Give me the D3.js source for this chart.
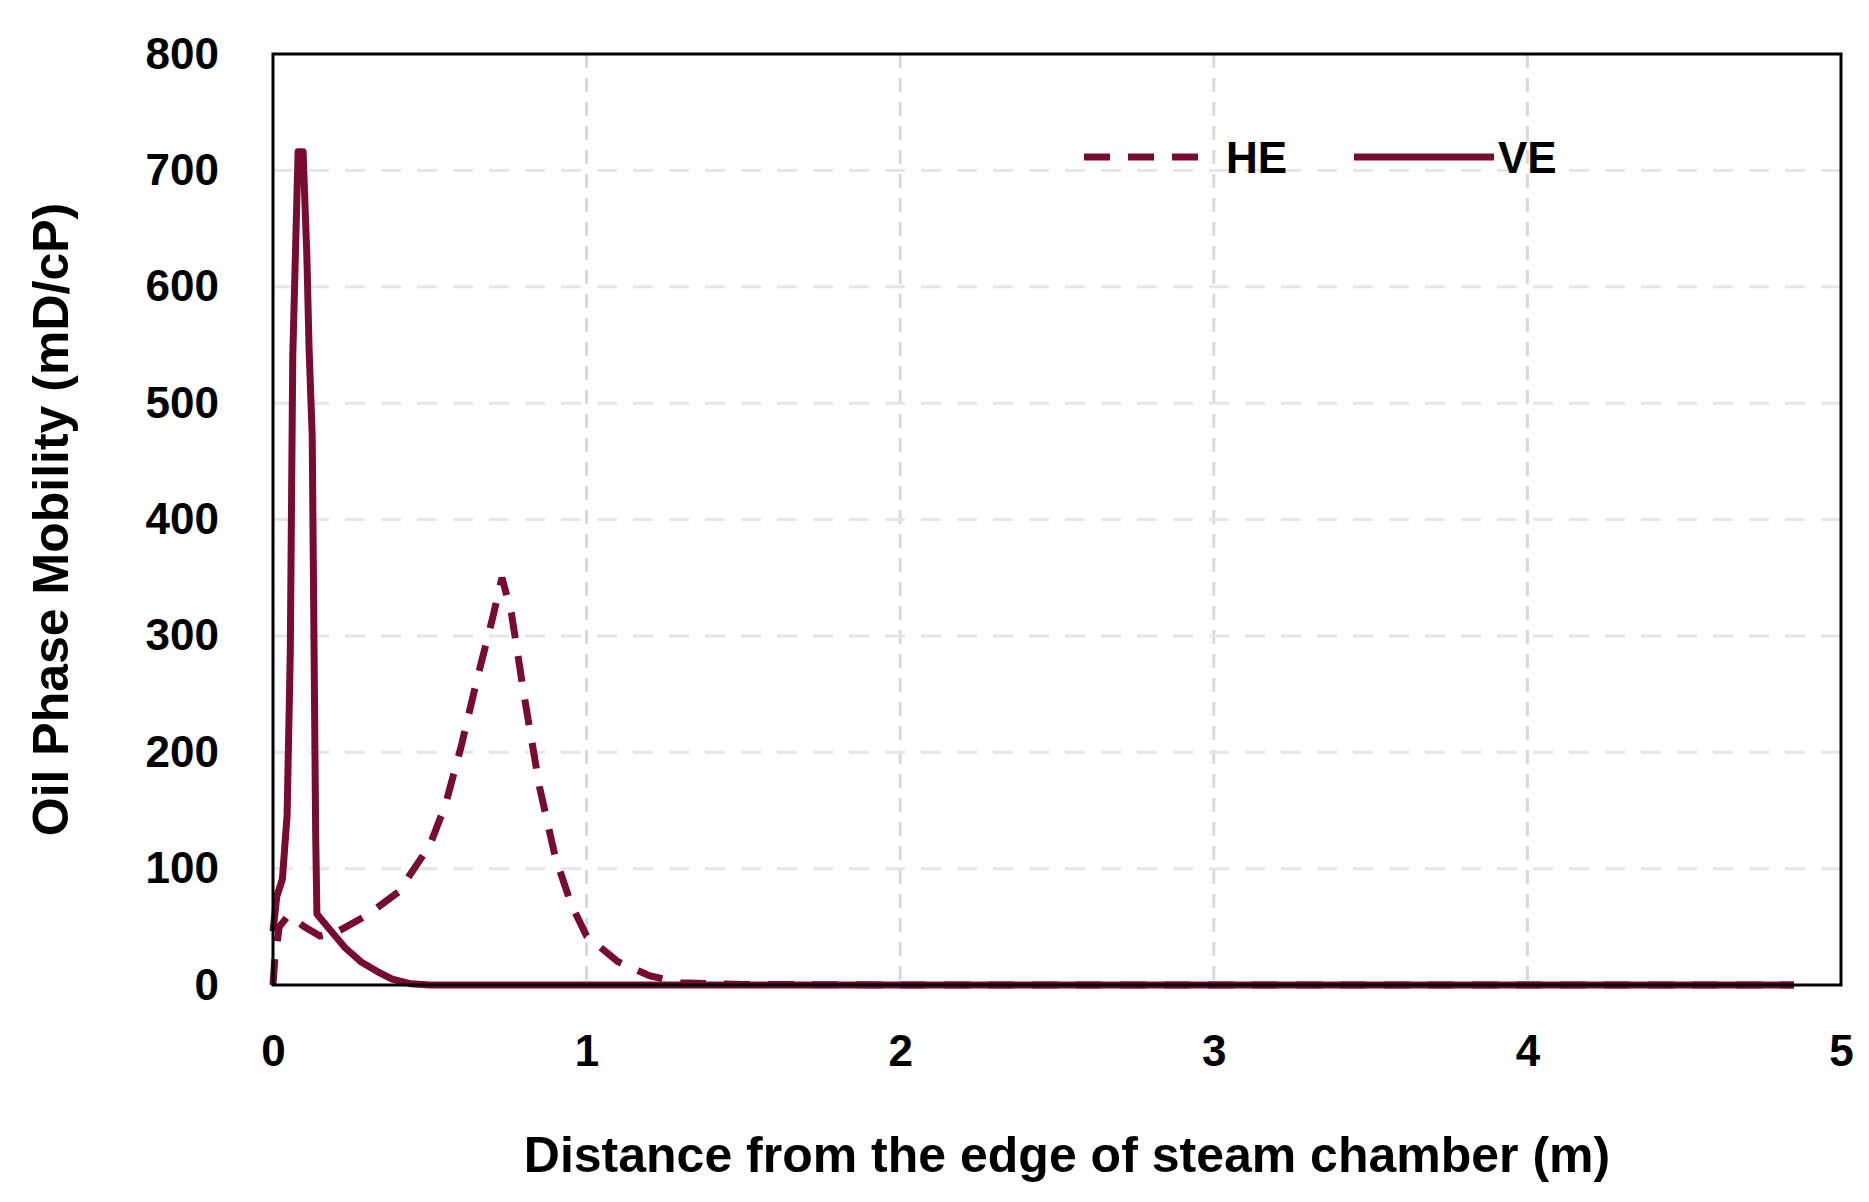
<!DOCTYPE html>
<html>
<head>
<meta charset="utf-8">
<script src="https://cdn.jsdelivr.net/npm/d3@7"></script>
<style>
  body { margin: 0; background: #fff; }
  text { font-family: "Liberation Sans", Arial, sans-serif; font-weight: bold; }
</style>
</head>
<body>
<svg id="chart" width="1869" height="1202"></svg>
<script>
// HE: dashed, VE: solid (distance in m, mobility in mD/cP)
const heX = [0, 0.005, 0.02, 0.05, 0.1, 0.15, 0.2, 0.3, 0.4, 0.5, 0.55, 0.6, 0.65, 0.7, 0.73, 0.76, 0.8, 0.85, 0.9, 0.95, 1.0, 1.1, 1.2, 1.3, 1.5, 2.0, 3.0, 4.0, 4.85];
const heY = [0, 20, 50, 60, 50, 42, 45, 60, 80, 120, 155, 205, 262, 315, 350, 320, 250, 170, 110, 70, 42, 20, 8, 2, 0.5, 0, 0, 0, 0];
const veX = [0, 0.012, 0.03, 0.045, 0.055, 0.063, 0.08, 0.096, 0.108, 0.115, 0.125, 0.136, 0.14, 0.18, 0.23, 0.28, 0.33, 0.38, 0.44, 0.5, 1, 2, 3, 4, 4.85];
const veY = [46, 76, 91, 146, 284, 540, 716, 716, 626, 547, 472, 131, 61, 48, 32, 20, 12, 5, 1, 0, 0, 0, 0, 0, 0];
const xTicks = [0, 1, 2, 3, 4, 5];
const yTicks = [0, 100, 200, 300, 400, 500, 600, 700, 800];

const color = '#780c30';
const svg = d3.select('#chart');
const mLeft = 273, mRight = 1841, mTop = 54, mBottom = 985;

const x = d3.scaleLinear().domain([0, 5]).range([mLeft, mRight]);
const y = d3.scaleLinear().domain([0, 800]).range([mBottom, mTop]);

// gridlines
svg.append('g').selectAll('line')
  .data(xTicks.slice(1, -1)).enter().append('line')
  .attr('x1', d => x(d)).attr('x2', d => x(d))
  .attr('y1', mTop).attr('y2', mBottom)
  .attr('stroke', '#d9d9d9').attr('stroke-width', 3)
  .attr('stroke-dasharray', '14,10');
svg.append('g').selectAll('line')
  .data(yTicks.slice(1, -1)).enter().append('line')
  .attr('x1', mLeft).attr('x2', mRight)
  .attr('y1', d => y(d)).attr('y2', d => y(d))
  .attr('stroke', '#e6e6e6').attr('stroke-width', 3)
  .attr('stroke-dasharray', '20,16');

const line = d3.line().x(d => x(d[0])).y(d => y(d[1]));

svg.append('path')
  .datum(heX.map((v, i) => [v, heY[i]]))
  .attr('d', line).attr('fill', 'none')
  .attr('stroke', color).attr('stroke-width', 7)
  .attr('stroke-dasharray', '26,18');

svg.append('path')
  .datum(veX.map((v, i) => [v, veY[i]]))
  .attr('d', line).attr('fill', 'none')
  .attr('stroke', color).attr('stroke-width', 7)
  .attr('stroke-linejoin', 'round');

// frame
svg.append('rect')
  .attr('x', mLeft).attr('y', mTop)
  .attr('width', mRight - mLeft).attr('height', mBottom - mTop)
  .attr('fill', 'none').attr('stroke', '#000').attr('stroke-width', 3);

// axes
const xAxis = svg.append('g').attr('transform', `translate(0,${mBottom})`)
  .call(d3.axisBottom(x).tickValues(xTicks).tickSize(0).tickPadding(50).tickFormat(d3.format('d')));
const yAxis = svg.append('g').attr('transform', `translate(${mLeft},0)`)
  .call(d3.axisLeft(y).tickValues(yTicks).tickSize(0).tickPadding(54).tickFormat(d3.format('d')));
[xAxis, yAxis].forEach(a => {
  a.select('.domain').remove();
  a.selectAll('text').attr('font-size', 44).attr('fill', '#000')
    .attr('font-family', '"Liberation Sans", Arial, sans-serif').attr('font-weight', 'bold');
});

svg.append('text')
  .attr('x', (mLeft + mRight) / 2 + 10).attr('y', 1172)
  .attr('text-anchor', 'middle').attr('font-size', 50)
  .text('Distance from the edge of steam chamber (m)');

svg.append('text')
  .attr('transform', `translate(68,${(mTop + mBottom) / 2}) rotate(-90)`)
  .attr('text-anchor', 'middle').attr('font-size', 50)
  .text('Oil Phase Mobility (mD/cP)');

// legend
const lg = svg.append('g');
lg.append('line').attr('x1', 1084).attr('x2', 1198).attr('y1', 157).attr('y2', 157)
  .attr('stroke', color).attr('stroke-width', 7).attr('stroke-dasharray', '26,18');
lg.append('text').attr('x', 1226).attr('y', 173).attr('font-size', 44).text('HE');
lg.append('line').attr('x1', 1354).attr('x2', 1494).attr('y1', 157).attr('y2', 157)
  .attr('stroke', color).attr('stroke-width', 7);
lg.append('text').attr('x', 1498).attr('y', 173).attr('font-size', 44).text('VE');
</script>
</body>
</html>
